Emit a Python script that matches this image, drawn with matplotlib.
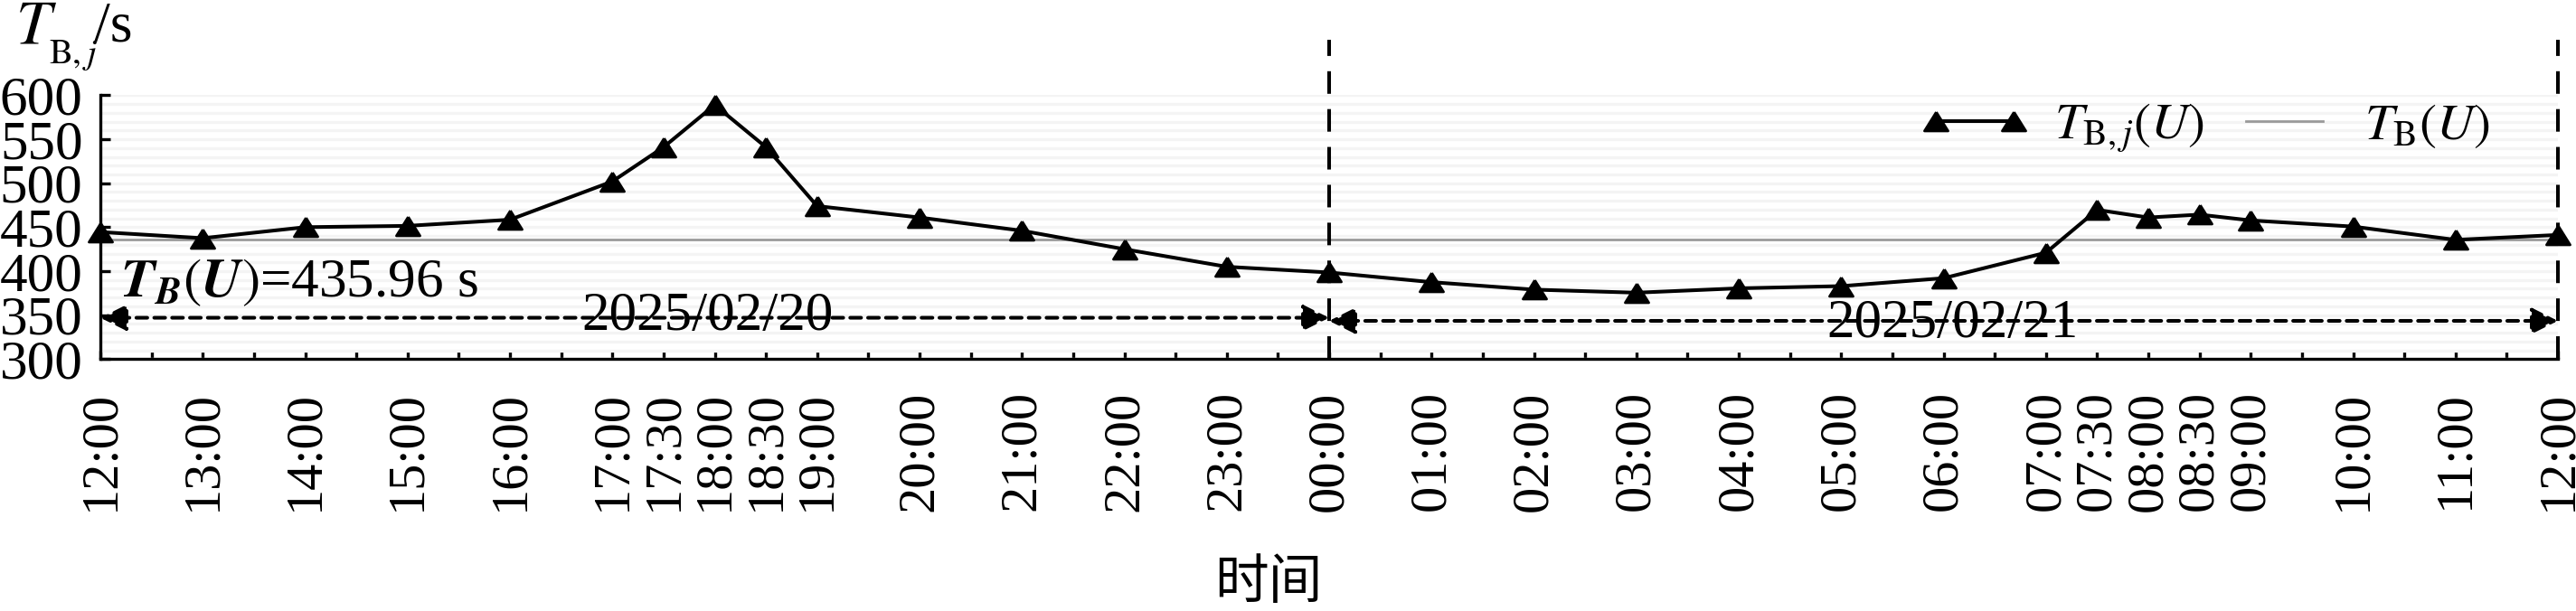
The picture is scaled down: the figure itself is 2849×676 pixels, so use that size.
import matplotlib
matplotlib.use('Agg')
from matplotlib import pyplot as plt
from matplotlib.lines import Line2D
from matplotlib.ticker import MultipleLocator
import numpy as np

# data
times = ['12:00', '13:00', '14:00', '15:00', '16:00', '17:00', '17:30', '18:00',
         '18:30', '19:00', '20:00', '21:00', '22:00', '23:00', '00:00', '01:00',
         '02:00', '03:00', '04:00', '05:00', '06:00', '07:00', '07:30', '08:00',
         '08:30', '09:00', '10:00', '11:00', '12:00']
tbj = [444.5, 437.5, 450.0, 451.5, 458.5, 502.0, 541.0, 589.0,
       541.0, 474.0, 461.0, 446.0, 425.0, 405.0, 398.5, 387.5,
       379.0, 375.5, 380.5, 383.0, 392.0, 421.0, 469.7, 461.0,
       464.3, 457.7, 450.7, 435.6, 441.2]
tb_mean = 435.96
days = ['2025/02/20', '2025/02/21']

# hours elapsed since the first 12:00
hours = []
start = None
offset = 0
prev = -1
for t in times:
    h = int(t[:2]) + int(t[3:]) / 60.
    if start is None:
        start = h
    if h + offset < prev:
        offset += 24
    prev = h + offset
    hours.append(prev - start)
hours = np.array(hours)

plt.rcParams['font.family'] = ['Liberation Serif', 'DejaVu Serif']
plt.rcParams['mathtext.fontset'] = 'stix'

W, H, dpi = 2849, 676, 200
fig = plt.figure(figsize=(W / dpi, H / dpi), dpi=dpi)
ax = fig.add_axes([111 / W, 1 - 397.3 / H, (2829 - 111) / W, (397.3 - 105.4) / H])

# faint horizontal stripes every 10 s
ax.yaxis.set_minor_locator(MultipleLocator(10))
ax.grid(True, which='both', axis='y', color='#f4f4f4', lw=1.2, zorder=0)

# mean line and hourly values
ax.axhline(tb_mean, color='#9a9a9a', lw=1.0, zorder=2)
tri = [(0, 0.8), (-1, -0.8), (1, -0.8), (0, 0.8)]
ax.plot(hours, tbj, color='k', lw=1.45, marker=tri, ms=9.4, zorder=4, clip_on=False)

# day separators
for xv in [12, 24]:
    ax.plot([xv, xv], [300, 663], color='k', lw=1.45, ls=(0, (6.2, 4.2)),
            clip_on=False, zorder=3)

# day spans with arrows
arr_y = [347.0, 343.5]
txt_y = [333.0, 324.6]
txt_x = [5.93, 18.09]
for k in range(2):
    ax.annotate('', xy=(12 * k, arr_y[k]), xytext=(12 * k + 12, arr_y[k]),
                arrowprops=dict(arrowstyle='<|-|>', color='k', lw=1.45,
                                ls=(0, (3.0, 1.9)), mutation_scale=22,
                                shrinkA=0, shrinkB=0), zorder=3)
    ax.text(txt_x[k], txt_y[k], days[k], fontsize=22, ha='center', va='baseline', zorder=5)

ax.text(0.19, 371, r'$\mathbfit{T}_{\mathbfit{B}}(\mathbfit{U})$=435.96 s', fontsize=22,
        ha='left', va='baseline', zorder=5)

# axes styling
ax.set_xlim(0, 24)
ax.set_ylim(300, 600)
ax.set_yticks(np.arange(300, 601, 50))
ax.set_xticks(hours)
ax.set_xticklabels(times, rotation=90, fontsize=21)
ax.xaxis.set_minor_locator(MultipleLocator(0.5))
ax.tick_params(axis='x', which='both', direction='in', length=9/2.78, width=1.2, pad=12.6)
ax.tick_params(axis='y', which='major', direction='in', length=4, width=1.2, pad=7, labelsize=22)
ax.tick_params(axis='y', which='minor', length=0)
for s in ['top', 'right']:
    ax.spines[s].set_visible(False)
for s in ['left', 'bottom']:
    ax.spines[s].set_linewidth(1.2)

ax.set_xlabel('时间', fontsize=21.5, family=['Noto Sans CJK SC', 'DejaVu Sans'])
ax.xaxis.set_label_coords((1403 - 111) / (2829 - 111), (397.3 - 676) / (397.3 - 105.4))
ax.xaxis.label.set_va('bottom')

# y axis title: T with a low subscript, then /s
fig.text(17 / W, 1 - 47 / H, r'$T$', fontsize=25, ha='left', va='baseline')
fig.text(54 / W, 1 - 70 / H, r'$\mathrm{B},j$', fontsize=14, ha='left', va='baseline')
fig.text(104 / W, 1 - 45 / H, '/s', fontsize=23, ha='left', va='baseline')

# legend
h1 = Line2D([], [], color='k', lw=1.45, marker=tri, ms=9.4)
h2 = Line2D([], [], color='#9a9a9a', lw=1.0)
fig.legend([h1, h2], [r'$T_{\mathrm{B},j}(U)$', r'$T_{\mathrm{B}}(U)$'], ncol=2,
           loc='center left', bbox_to_anchor=(2124 / W, 1 - 142 / H), frameon=False,
           fontsize=20.5, numpoints=2, handlelength=2.1, handletextpad=0.5,
           columnspacing=0.5, borderpad=0, borderaxespad=0)

fig.savefig('out.png', dpi=dpi)
